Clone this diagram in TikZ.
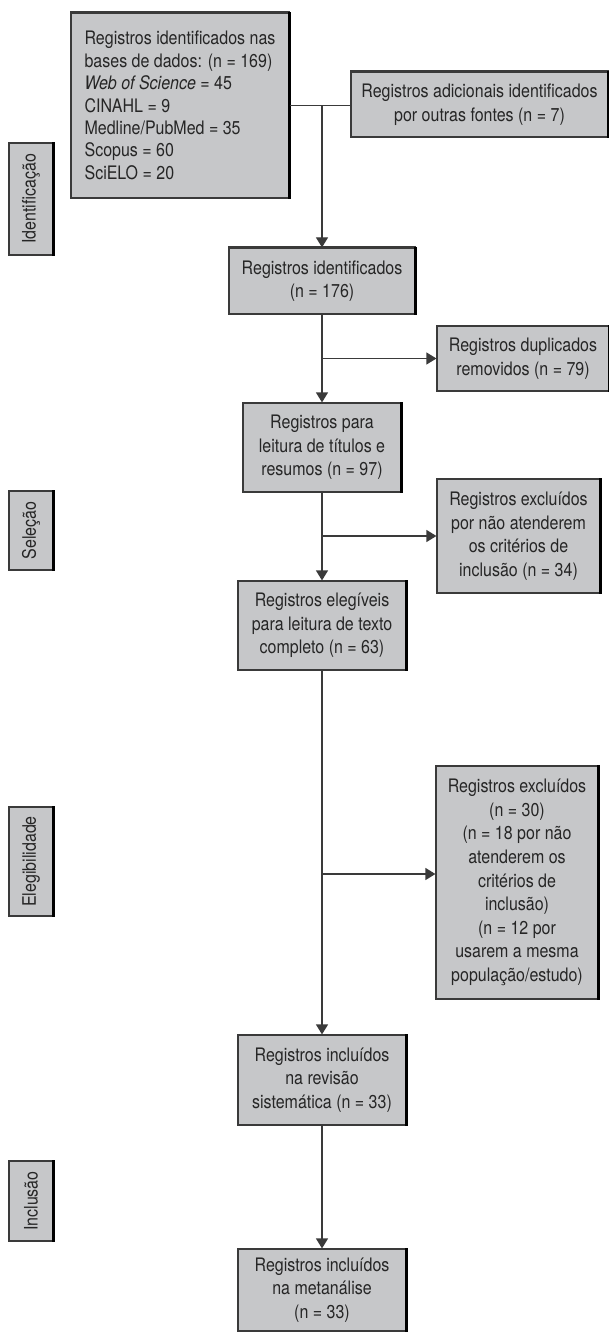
\documentclass[tikz,border=0pt]{standalone}
\usepackage{fontspec}
\setmainfont{TeX Gyre Heros}[FakeStretch=0.86]
\usetikzlibrary{arrows.meta,calc,positioning}
\usepackage{xcolor}
\definecolor{boxgray}{HTML}{C6C7C9}
\definecolor{linegray}{HTML}{3A3A3A}

\begin{document}
\begin{tikzpicture}[x=0.5pt,y=-0.5pt,
    box/.style={rectangle,draw=linegray,fill=boxgray,line width=0.6pt,align=center,
      inner sep=2pt,text=black!85,font=\fontsize{9.3pt}{11.8pt}\selectfont},
    phase/.style={box,rotate=90,minimum height=22pt},
    flow/.style={draw=linegray,line width=0.6pt},
    arr/.style={flow,-{Triangle[length=5pt,width=6pt]}}]

    \useasboundingbox (0,0) rectangle (609,1332);

    % fases
    \node [phase,minimum width=56pt] (ident) at (31,199) {Identificação};
    \node [phase,minimum width=39.5pt] (sel) at (31,530.5) {Seleção};
    \node [phase,minimum width=54.5pt] (eleg) at (31,861.5) {Elegibilidade};
    \node [phase,minimum width=40pt] (incl) at (31,1201) {Inclusão};

    % caixas
    \node [box,align=left,minimum width=109pt,minimum height=92.5pt,
      font=\fontsize{9.3pt}{11.2pt}\selectfont] (db) at (180,105.5)
      {Registros identificados nas\\bases de dados: (n = 169)\\\textit{Web of Science} = 45\\CINAHL = 9\\Medline/PubMed = 35\\Scopus = 60\\SciELO = 20};
    \node [box,minimum width=128.5pt,minimum height=32.5pt] (add) at (479.5,104.5)
      {Registros adicionais identificados\\por outras fontes (n = 7)};
    \node [box,minimum width=93pt,minimum height=33pt] (c) at (322,281)
      {Registros identificados\\(n = 176)};
    \node [box,minimum width=86pt,minimum height=32.5pt] (dup) at (523,358.5)
      {Registros duplicados\\removidos (n = 79)};
    \node [box,minimum width=79pt,minimum height=44.5pt] (n97) at (322,447.5)
      {Registros para\\leitura de títulos e\\resumos (n = 97)};
    \node [box,minimum width=81.5pt,minimum height=57pt] (ex34) at (518.5,536)
      {Registros excluídos\\por não atenderem\\os critérios de\\inclusão (n = 34)};
    \node [box,minimum width=84pt,minimum height=44.5pt] (n63) at (322,625.5)
      {Registros elegíveis\\para leitura de texto\\completo (n = 63)};
    \node [box,minimum width=81pt,minimum height=116.5pt] (ex30) at (517,882.5)
      {Registros excluídos\\(n = 30)\\(n = 18 por não\\atenderem os\\critérios de\\inclusão)\\(n = 12 por\\usarem a mesma\\população/estudo)};
    \node [box,minimum width=84pt,minimum height=45pt] (rev) at (322,1080)
      {Registros incluídos\\na revisão\\sistemática (n = 33)};
    \node [box,minimum width=84pt,minimum height=41pt] (meta) at (322,1290)
      {Registros incluídos\\na metanálise\\(n = 33)};

    % bordas escuras
    \foreach \n in {db,add,c,dup,n97,ex34,n63,ex30,rev,meta} {
      \draw [linegray,line width=0.9pt] (\n.north west) -- (\n.north east);
      \draw [black,line width=1.5pt] (\n.north east) -- (\n.south east);
    }
    \foreach \n in {ident,sel,eleg,incl}
      \draw [black,line width=1.5pt] (\n.south west) -- (\n.south east);

    % ligações
    \coordinate (j30) at (322,874);
    \draw [flow] (db.east) -- (db.east -| add.west);
    \draw [arr] (db.east -| c.north) -- (c.north);
    \draw [arr] (c.south) -- (n97.north);
    \draw [arr] (c.south |- dup.west) -- (dup.west);
    \draw [arr] (n97.south) -- (n63.north);
    \draw [arr] (n97.south |- ex34.west) -- (ex34.west);
    \draw [arr] (n63.south) -- (rev.north);
    \draw [arr] (j30) -- (j30 -| ex30.west);
    \draw [arr] (rev.south) -- (meta.north);
\end{tikzpicture}
\end{document}
